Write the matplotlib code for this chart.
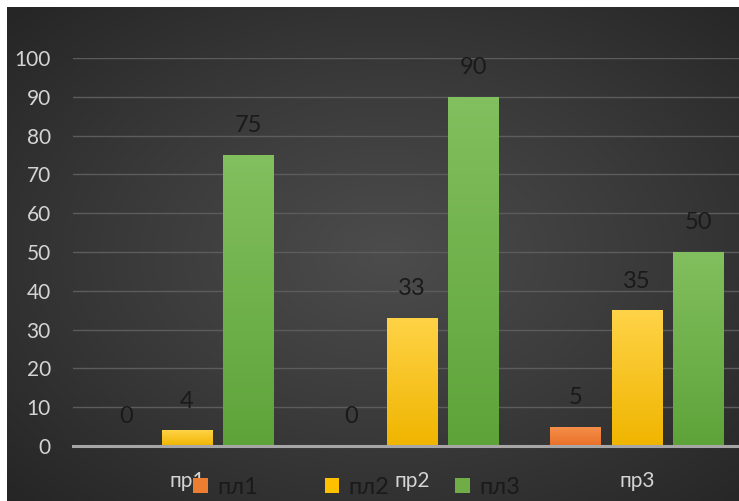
import numpy as np
import matplotlib
matplotlib.use("Agg")
import matplotlib.pyplot as plt
from matplotlib.patches import Patch
from matplotlib.colors import LinearSegmentedColormap

categories = ["пр1", "пр2", "пр3"]
series_names = ["пл1", "пл2", "пл3"]
pl1 = [0, 0, 5]
pl2 = [4, 33, 35]
pl3 = [75, 90, 50]
yticks = [0, 10, 20, 30, 40, 50, 60, 70, 80, 90, 100]

series_values = [pl1, pl2, pl3]
colors_top = ["#f5904a", "#ffd347", "#82bf5e"]
colors_bot = ["#e9702a", "#f0b500", "#5ea33a"]
legend_colors = ["#ed7d31", "#ffc000", "#70ad47"]

plt.rcParams['font.family'] = ['Lato', 'DejaVu Sans']

W, H = 739, 501
fig = plt.figure(figsize=(W / 100, H / 100), dpi=100, facecolor="white")

# background with radial gradient
bg = fig.add_axes([7 / W, 0, (W - 7) / W, (H - 7) / H], zorder=0)
yy, xx = np.mgrid[0:1:300j, 0:1:450j]
r = np.sqrt(((xx - 0.52) / 0.75) ** 2 + ((yy - 0.5) / 0.75) ** 2)
r = np.clip(r / 0.95, 0, 1)
bgcmap = LinearSegmentedColormap.from_list("bg", ["#4c4c4c", "#3a3a3a", "#262626"])
bg.imshow(r, cmap=bgcmap, aspect="auto", extent=[0, 1, 0, 1], interpolation="bilinear")
bg.set_axis_off()

x0_px, x_end = 73, W
y0_px = H - 446
y100_px = H - 58
ax = fig.add_axes([x0_px / W, y0_px / H, (x_end - x0_px) / W, (y100_px - y0_px) / H], zorder=1)
ax.patch.set_alpha(0)

x = np.arange(len(categories))
width = 0.226
offset = 0.272
for i, vals in enumerate(series_values):
    pos = x + (i - 1) * offset
    bars = ax.bar(pos, vals, width=width, color=legend_colors[i], zorder=3, linewidth=0)
    cmap = LinearSegmentedColormap.from_list(f"g{i}", [colors_bot[i], colors_top[i]])
    for b, v in zip(bars, vals):
        bx, by = b.get_x(), b.get_y()
        bw, bh = b.get_width(), b.get_height()
        if bh > 0:
            grad = np.linspace(0, 1, 100).reshape(-1, 1)
            im = ax.imshow(grad, cmap=cmap, origin="lower", aspect="auto",
                           extent=[bx, bx + bw, by, by + bh], zorder=3.5)
            im.set_clip_path(b)
        ax.annotate(f"{v}", (b.get_x() + bw / 2, v), xytext=(0, 21),
                    textcoords="offset points", ha="center", va="center",
                    fontsize=17, color="#1a1a1a", zorder=5)

ax.set_xlim(-(187 - 73) / 225, (x_end - 187) / 225)
ax.set_ylim(0, 100)
ax.set_yticks(yticks)
ax.set_yticklabels([str(t) for t in yticks])
ax.set_xticks(x)
ax.set_xticklabels(categories)
ax.tick_params(axis="y", length=0, pad=16, labelsize=15, labelcolor="#d4d4d4")
ax.tick_params(axis="x", length=0, pad=18, labelsize=15, labelcolor="#d4d4d4")
ax.grid(axis="y", color="#5c5c5c", linewidth=1, zorder=1)
ax.set_axisbelow(True)
for s in ["top", "right", "left"]:
    ax.spines[s].set_visible(False)
ax.spines["bottom"].set_color("#a6a6a6")
ax.spines["bottom"].set_linewidth(2.2)
ax.spines["bottom"].set_zorder(4)

handles = [Patch(facecolor=c, edgecolor="none") for c in legend_colors]
leg = fig.legend(handles, series_names, loc="center", bbox_to_anchor=(357 / W, 1 - 487 / H),
                 ncol=3, frameon=False, fontsize=17, labelcolor="#1a1a1a",
                 handlelength=0.62, handleheight=0.62, handletextpad=0.4, columnspacing=2.8,
                 borderpad=0, borderaxespad=0)
leg.set_zorder(10)

fig.savefig("out.png", dpi=100, facecolor="white")
